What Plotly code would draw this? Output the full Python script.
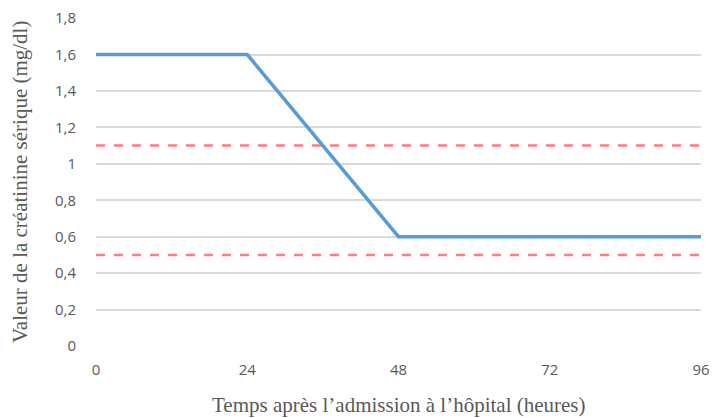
import plotly.graph_objects as go

hours = [0, 24, 48, 96]
creatinine = [1.6, 1.6, 0.6, 0.6]
limit_x = [0, 96]
upper_limit = [1.1, 1.1]
lower_limit = [0.5, 0.5]
y_ticks = [0, 0.2, 0.4, 0.6, 0.8, 1.0, 1.2, 1.4, 1.6, 1.8]
x_ticks = [0, 24, 48, 72, 96]

fig = go.Figure()
fig.add_trace(go.Scatter(x=limit_x, y=upper_limit, mode="lines",
                         line=dict(color="#FF7C80", width=2.5, dash="dash"), showlegend=False))
fig.add_trace(go.Scatter(x=limit_x, y=lower_limit, mode="lines",
                         line=dict(color="#FF7C80", width=2.5, dash="dash"), showlegend=False))
fig.add_trace(go.Scatter(x=hours, y=creatinine, mode="lines",
                         line=dict(color="#5B9BD5", width=3.5), showlegend=False))

title_font = dict(family="Liberation Serif", size=21, color="#595959")
tick_font = dict(family="Open Sans", size=15, color="#595959")

fig.update_layout(
    width=713, height=418,
    margin=dict(l=96, r=12, t=18, b=72),
    paper_bgcolor="white", plot_bgcolor="white",
    separators=", ",
    xaxis=dict(range=[0, 96], tickvals=x_ticks, showgrid=False, zeroline=False,
               showline=False, ticks="outside", ticklen=10, tickcolor="rgba(0,0,0,0)",
               tickfont=tick_font, automargin=False),
    yaxis=dict(range=[0, 1.8005], tickvals=y_ticks, showgrid=True, gridcolor="#D9D9D9",
               gridwidth=1.5, zeroline=False, showline=False,
               ticks="outside", ticklen=16, tickcolor="rgba(0,0,0,0)",
               tickfont=tick_font, automargin=False),
    annotations=[
        dict(text="Temps après l’admission à l’hôpital (heures)", xref="paper", yref="paper",
             x=0.5, y=0, yshift=-59, xanchor="center", yanchor="middle",
             showarrow=False, font=title_font),
        dict(text="Valeur de la créatinine sérique (mg/dl)", xref="paper", yref="paper",
             x=0, y=0.5, xshift=-76, xanchor="center", yanchor="middle", textangle=-90,
             showarrow=False, font=title_font),
    ],
)
fig.write_html(
    "out.html",
    config={"displayModeBar": False},
    post_script="document.body.style.margin='0';document.body.style.overflow='hidden';",
)
